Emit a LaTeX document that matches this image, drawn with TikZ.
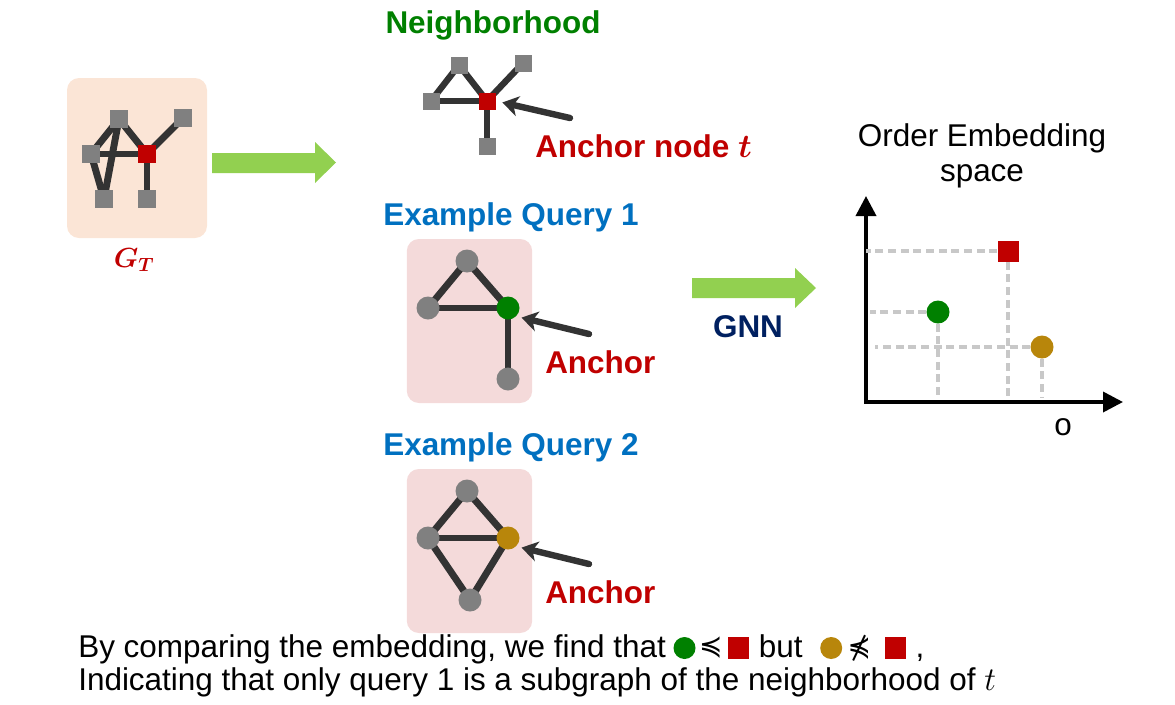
\documentclass[tikz,border=0pt]{standalone}
\usepackage{fontspec}
\usepackage{amsmath,bm}
\setmainfont{Liberation Sans}
\newfontfamily\symfont{DejaVu Sans}
\usetikzlibrary{arrows.meta,calc}

\definecolor{peach}{HTML}{FBE5D6}
\definecolor{pinkbox}{HTML}{F4DADA}
\definecolor{nodegray}{HTML}{808080}
\definecolor{edgegray}{HTML}{333333}
\definecolor{cred}{HTML}{C00000}
\definecolor{cgreen}{HTML}{008000}
\definecolor{cgold}{HTML}{B8860B}
\definecolor{cblue}{HTML}{0070C0}
\definecolor{cnavy}{HTML}{002060}
\definecolor{arrowgreen}{HTML}{92D050}
\definecolor{dashgray}{HTML}{C8C8C8}

\pgfdeclarelayer{boxes}
\pgfdeclarelayer{edges}
\pgfsetlayers{boxes,edges,main}

\begin{document}
\begin{tikzpicture}[x=0.75pt,y=-0.75pt,
  sqnode/.style={rectangle, fill=nodegray, minimum size=13.5pt, inner sep=0},
  dotnode/.style={circle, fill=nodegray, minimum size=17.25pt, inner sep=0},
  link/.style={draw=edgegray, line width=5.2pt},
  pointer/.style={draw=edgegray, line width=4.8pt, line cap=round,
    -{Stealth[length=12pt,width=15pt,inset=3.5pt]}, shorten >=4pt},
  panel/.style={rectangle, rounded corners=9pt, inner sep=0},
  lbl/.style={font=\fontsize{23.6}{28}\selectfont\bfseries, inner sep=0},
  txt/.style={font=\fontsize{23.6}{28}\selectfont, inner sep=0},
  relsym/.style={font=\fontsize{21}{25}\symfont, inner sep=0},
  axis/.style={line width=2.7pt, {Triangle[length=15pt,width=15pt]}-{Triangle[length=15pt,width=15pt]}},
  guide/.style={draw=dashgray, line width=2.4pt, dash pattern=on 6pt off 3.5pt},
  blockarrow/.style={fill=arrowgreen},
]
\useasboundingbox (0,0) rectangle (1175,704);

% ---------- target graph G_T ----------
\begin{pgfonlayer}{boxes}
  \node[panel, fill=peach, minimum width=105pt, minimum height=120pt] (gtbox) at (137,158) {};
\end{pgfonlayer}
\node[sqnode] (gt)  at (119,119) {};
\node[sqnode] (gtr) at (183,118) {};
\node[sqnode] (gl)  at (91,154) {};
\node[sqnode, fill=cred] (gr) at (147,154) {};
\node[sqnode] (gbl) at (104,199) {};
\node[sqnode] (gbr) at (147,199) {};
\begin{pgfonlayer}{edges}
  \draw[link] (gl.center) -- (gr.center);
  \draw[link] (gt.center) -- (gr.center);
  \draw[link] (gr.center) -- (gtr.center);
  \draw[link] (gr.center) -- (gbr.center);
  \draw[link] (gl.center) -- (gt.center);
  \draw[link] (gl.center) -- (gbl.center);
  \draw[link] (gt.center) -- (gbl.center);
\end{pgfonlayer}
\node[font=\fontsize{22}{26}\selectfont, text=cred, anchor=base, inner sep=0] (gtlabel) at (134,267) {$\bm{G_T}$};

% green arrow towards the neighborhood
\fill[blockarrow] (212,153) -- (315,153) -- (315,142) -- (336,162.5) -- (315,183) -- (315,173) -- (212,173) -- cycle;

% ---------- neighborhood of the anchor ----------
\node[lbl, text=cgreen, anchor=base] (nhtitle) at (493,33) {Neighborhood};
\node[sqnode, minimum size=12.75pt] (nt)  at (459,65) {};
\node[sqnode, minimum size=12.75pt] (ntr) at (523,63) {};
\node[sqnode, minimum size=12.75pt] (nl)  at (431,101) {};
\node[sqnode, minimum size=12.75pt, fill=cred] (nr) at (487,101) {};
\node[sqnode, minimum size=12.75pt] (nb)  at (487,146) {};
\begin{pgfonlayer}{edges}
  \draw[link, line width=4.8pt] (nl.center) -- (nr.center);
  \draw[link, line width=4.8pt] (nt.center) -- (nr.center);
  \draw[link, line width=4.8pt] (nl.center) -- (nt.center);
  \draw[link, line width=4.8pt] (nr.center) -- (ntr.center);
  \draw[link, line width=4.8pt] (nr.center) -- (nb.center);
\end{pgfonlayer}
\coordinate (ntail) at (570,118);
\draw[pointer, shorten >=5pt] (ntail) -- (nr.east);
\node[lbl, text=cred, anchor=base west] (ntlabel) at (535,157) {Anchor node $\bm{t}$};

% ---------- example query 1 ----------
\node[lbl, text=cblue, anchor=base west] (q1title) at (383,225) {Example Query 1};
\begin{pgfonlayer}{boxes}
  \node[panel, fill=pinkbox, minimum width=94pt, minimum height=123pt] (q1box) at (469.5,321) {};
\end{pgfonlayer}
\node[dotnode] (q1t) at (467,261) {};
\node[dotnode] (q1l) at (428,308) {};
\node[dotnode, fill=cgreen] (q1a) at (508,308) {};
\node[dotnode] (q1b) at (508,379) {};
\begin{pgfonlayer}{edges}
  \draw[link] (q1t.center) -- (q1l.center);
  \draw[link] (q1t.center) -- (q1a.center);
  \draw[link] (q1l.center) -- (q1a.center);
  \draw[link] (q1a.center) -- (q1b.center);
\end{pgfonlayer}
\coordinate (q1tail) at (589,334);
\draw[pointer] (q1tail) -- (q1a.south east);
\node[lbl, text=cred, anchor=base west] (q1lab) at (545,373) {Anchor};

% ---------- example query 2 ----------
\node[lbl, text=cblue, anchor=base west] (q2title) at (383,455) {Example Query 2};
\begin{pgfonlayer}{boxes}
  \node[panel, fill=pinkbox, minimum width=94pt, minimum height=123pt] (q2box) at (469.5,551) {};
\end{pgfonlayer}
\node[dotnode] (q2t) at (467,491) {};
\node[dotnode] (q2l) at (428,538) {};
\node[dotnode, fill=cgold] (q2a) at (508,538) {};
\node[dotnode] (q2b) at (470,600) {};
\begin{pgfonlayer}{edges}
  \draw[link] (q2t.center) -- (q2l.center);
  \draw[link] (q2t.center) -- (q2a.center);
  \draw[link] (q2l.center) -- (q2a.center);
  \draw[link] (q2l.center) -- (q2b.center);
  \draw[link] (q2a.center) -- (q2b.center);
\end{pgfonlayer}
\coordinate (q2tail) at (589,564);
\draw[pointer] (q2tail) -- (q2a.south east);
\node[lbl, text=cred, anchor=base west] (q2lab) at (545,603) {Anchor};

% ---------- GNN step ----------
\fill[blockarrow] (692,278) -- (795,278) -- (795,268) -- (816,288) -- (795,308) -- (795,298) -- (692,298) -- cycle;
\node[lbl, text=cnavy, anchor=base] (gnn) at (748,337) {GNN};

% ---------- order embedding space ----------
\node[txt, anchor=base] (oe1) at (982,146) {Order Embedding};
\node[txt, anchor=base] (oe2) at (982,181) {space};
\coordinate (origin) at (866,402);
\coordinate (ytip) at (866,196);
\coordinate (xtip) at (1123,402);
\draw[axis] (ytip) -- (origin) -- (xtip);
\node[txt, anchor=base] (olab) at (1063,435) {o};

\node[sqnode, fill=cred, minimum size=15.75pt] (pr) at (1008,251) {};
\node[dotnode, fill=cgreen] (pg) at (938,312) {};
\node[dotnode, fill=cgold] (py) at (1042,347) {};
\draw[guide] (pr) -- (pr -| origin);
\draw[guide] (pr) -- ($(pr |- origin)+(0,-4)$);
\draw[guide] (pg) -- ($(pg -| origin)+(4,0)$);
\draw[guide] (pg) -- ($(pg |- origin)+(0,-4)$);
\draw[guide] (py) -- ($(py -| origin)+(9,0)$);
\draw[guide] (py) -- ($(py |- origin)+(0,-4)$);

% ---------- conclusion ----------
\node[txt, anchor=base west] (c1) at (78,657) {By comparing the embedding, we find that};
\node[dotnode, fill=cgreen, minimum size=16.5pt, anchor=west] (c1g) at ($(c1.base east)+(7,-9)$) {};
\node[relsym, anchor=west] (c1le) at ($(c1g.east)+(3,0)$) {≼};
\node[sqnode, fill=cred, minimum size=16pt, anchor=west] (c1r) at ($(c1le.east)+(5,0)$) {};
\node[txt, anchor=base west] (c1but) at ($(c1r.east |- c1.base)+(9,0)$) {but};
\node[dotnode, fill=cgold, minimum size=16.5pt, anchor=west] (c1y) at ($(c1but.base east)+(17,-9)$) {};
\node[relsym, anchor=west] (c1nle) at ($(c1y.east)+(5,0)$) {⋠};
\node[sqnode, fill=cred, minimum size=16pt, anchor=west] (c1r2) at ($(c1nle.east)+(13,0)$) {};
\node[txt, anchor=base west] (c1comma) at ($(c1r2.east |- c1.base)+(9,0)$) {,};
\node[txt, anchor=base west] (c2) at (78,690) {Indicating that only query 1 is a subgraph of the neighborhood of $t$};
\end{tikzpicture}
\end{document}
